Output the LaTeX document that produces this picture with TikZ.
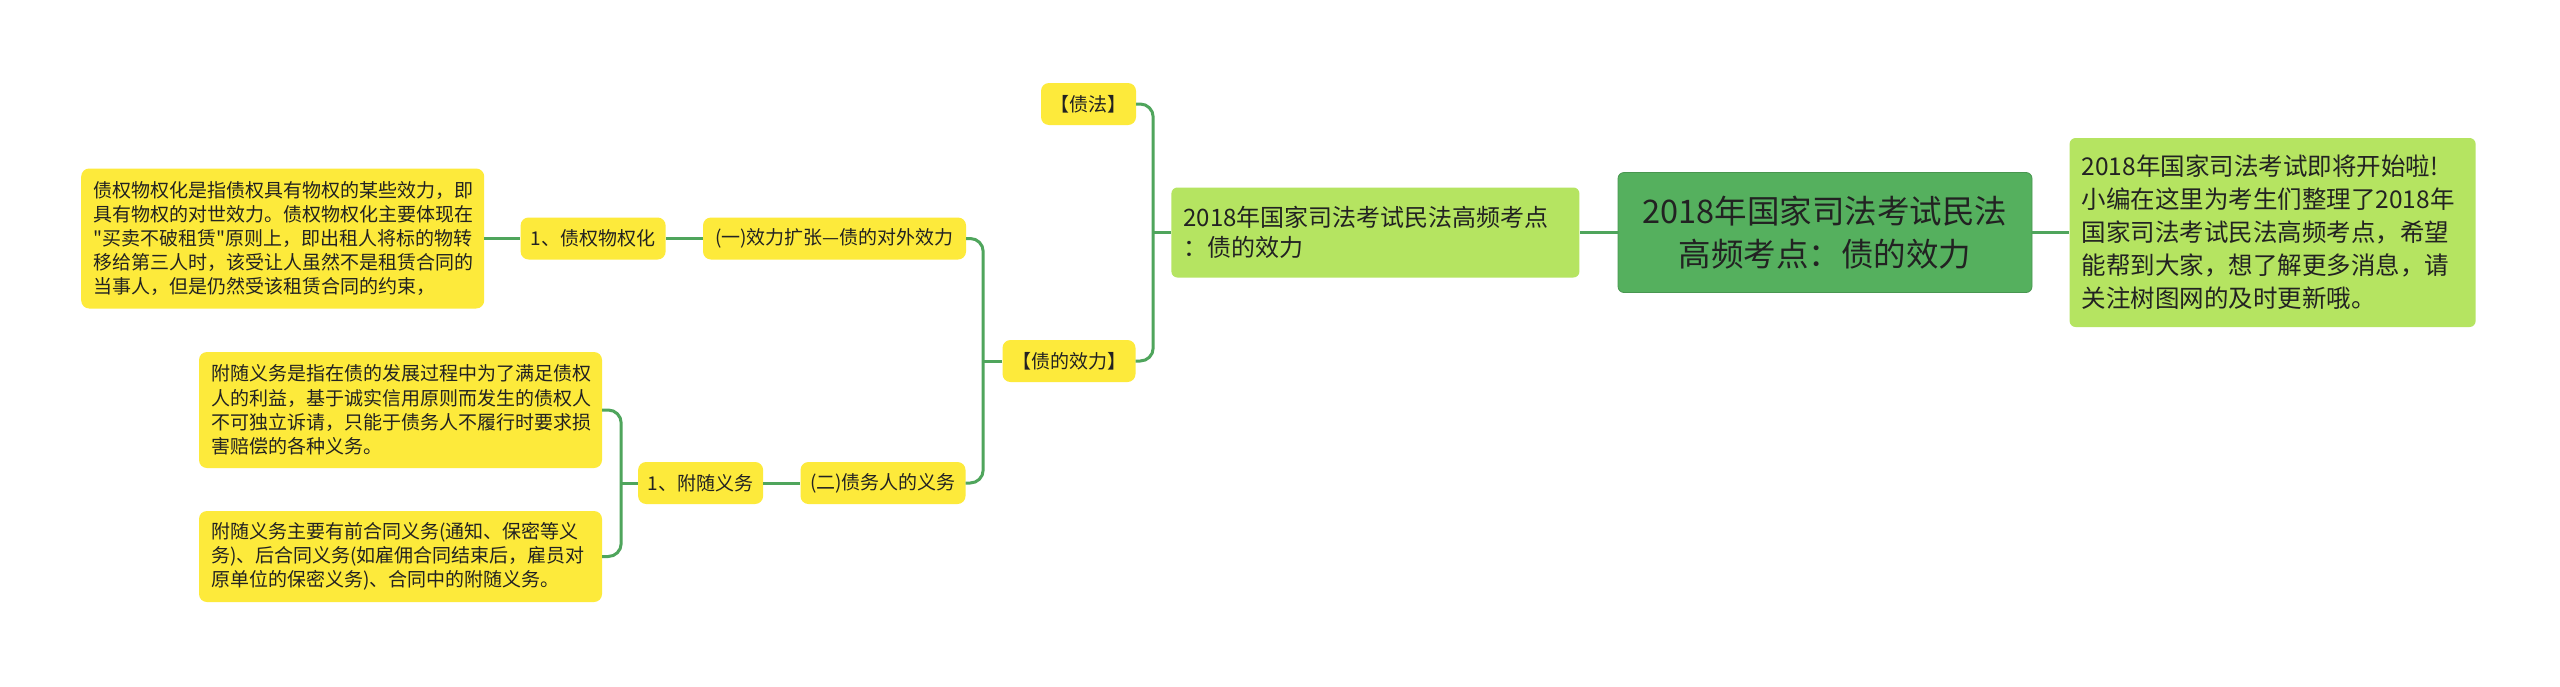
\documentclass[tikz,border=0pt]{standalone}
\usepackage{fontspec}
\setmainfont{Noto Sans CJK SC}[Ligatures=TeXOff]
\usepackage{xcolor}
\usepackage{tikz}
\usetikzlibrary{positioning}

\definecolor{leafyellow}{HTML}{FDEA3B}
\definecolor{topicgreen}{HTML}{B5E461}
\definecolor{rootgreen}{HTML}{55B05E}
\definecolor{linegreen}{HTML}{4FA55C}
\definecolor{inkgray}{HTML}{222222}

\begin{document}
\begin{tikzpicture}[x=1pt, y=-1pt, node distance=37pt,
  root/.style={rectangle, fill=rootgreen, draw=rootgreen!85!black, line width=0.8pt, rounded corners=6pt, minimum width=414pt, minimum height=120pt, inner sep=0pt, align=center, text=inkgray, font=\fontsize{32.5}{43}\selectfont},
  topic/.style={rectangle, fill=topicgreen, rounded corners=6pt, inner xsep=12pt, inner ysep=0pt, align=left, text=inkgray},
  label/.style={rectangle, fill=leafyellow, rounded corners=8pt, minimum height=42pt, inner xsep=4pt, inner ysep=0pt, align=center, text=inkgray, font=\fontsize{19}{23}\selectfont},
  desc/.style={rectangle, fill=leafyellow, rounded corners=8pt, text width=379pt, inner xsep=12pt, inner ysep=0pt, align=left, text=inkgray, font=\fontsize{19}{24.2}\selectfont},
  line/.style={draw=linegreen, line width=3pt, rounded corners=13pt}]

  \fill[white] (0,0) rectangle (2560,686);
  \useasboundingbox (0,0) rectangle (2560,686);

  % centre and first level
  \node [root] (root) at (1825,232.5) {2018年国家司法考试民法\\高频考点：债的效力};
  \node [topic, left=38pt of root, text width=384pt, minimum height=90pt, font=\fontsize{24}{30}\selectfont] (topic) {2018年国家司法考试民法高频考点\\：债的效力};
  \node [topic, right=37pt of root, text width=382pt, minimum height=189pt, font=\fontsize{24.5}{33}\selectfont] (intro) {2018年国家司法考试即将开始啦!\\小编在这里为考生们整理了2018年\\国家司法考试民法高频考点，希望\\能帮到大家，想了解更多消息，请\\关注树图网的及时更新哦。};

  % second level
  \node [label, minimum width=95pt] (zhaifa) at (1088.5,104) {【债法】};
  \node [label, minimum width=133pt] (xiaoli) at (1069,361) {【债的效力】};

  % third level
  \node [label, minimum width=263pt] (yi) at (834.5,238.5) {(一)效力扩张—债的对外效力};
  \node [label, minimum width=165pt] (er) at (883,483) {(二)债务人的义务};
  \node [label, minimum width=145pt, left=of yi] (wuquan) {1、债权物权化};
  \node [label, minimum width=125pt, left=of er] (fusui) {1、附随义务};

  % leaves
  \node [desc, minimum height=140pt, left=36pt of wuquan] (descA) {债权物权化是指债权具有物权的某些效力，即\\具有物权的对世效力。债权物权化主要体现在\\"买卖不破租赁"原则上，即出租人将标的物转\\移给第三人时，该受让人虽然不是租赁合同的\\当事人，但是仍然受该租赁合同的约束，};
  \node [desc, minimum height=116pt] (descB) at (400.5,410) {附随义务是指在债的发展过程中为了满足债权\\人的利益，基于诚实信用原则而发生的债权人\\不可独立诉请，只能于债务人不履行时要求损\\害赔偿的各种义务。};
  \node [desc, minimum height=91pt] (descC) at (400.5,556.5) {附随义务主要有前合同义务(通知、保密等义\\务)、后合同义务(如雇佣合同结束后，雇员对\\原单位的保密义务)、合同中的附随义务。};

  % connectors
  \draw [line] (root.west) -- (topic.west -| topic.east);
  \draw [line] (root.east) -- (intro.west);
  \draw [line] (zhaifa.east) -- ++(17,0) |- (xiaoli.east);
  \draw [line] (topic.west) -- ++(-19,0);
  \draw [line] (yi.east) -- ++(17,0) |- (er.east);
  \draw [line] (xiaoli.west) -- ++(-19,0);
  \draw [line] (wuquan.east) -- (yi.west);
  \draw [line] (descA.east) -- (wuquan.west);
  \draw [line] (fusui.east) -- (er.west);
  \draw [line] (descB.east) -- ++(19,0) |- (descC.east);
  \draw [line] (fusui.west) -- ++(-17,0);
\end{tikzpicture}
\end{document}
